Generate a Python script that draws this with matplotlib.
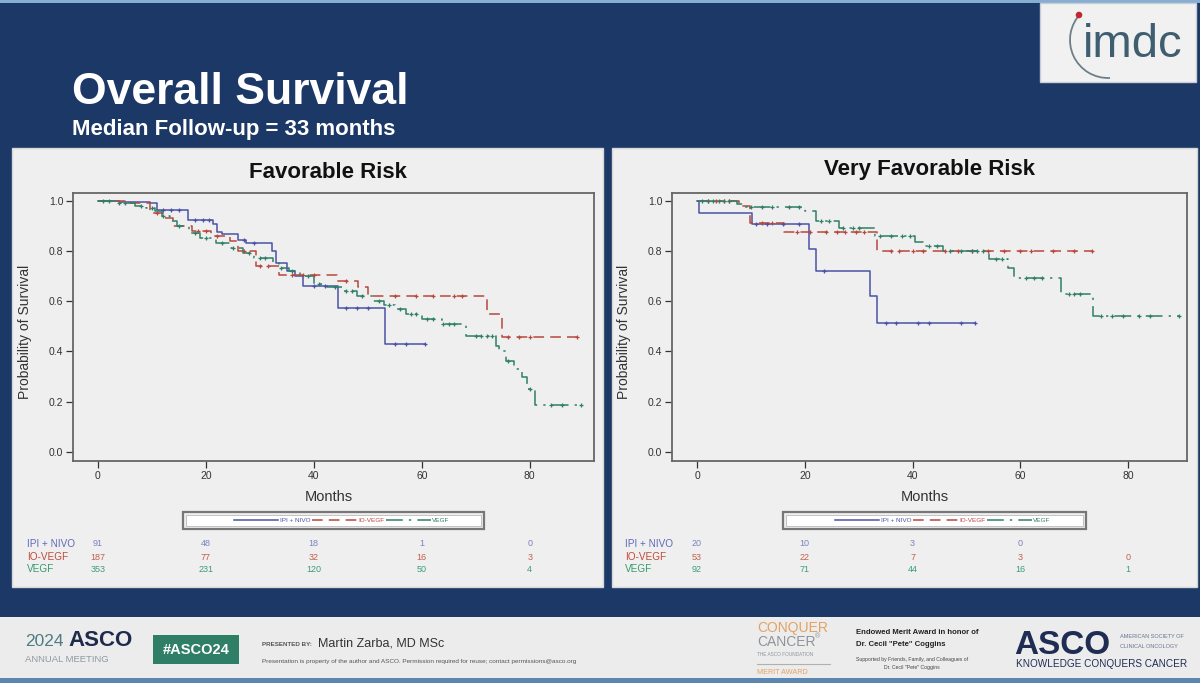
import numpy as np
import matplotlib
matplotlib.use('Agg')
import matplotlib.pyplot as plt
from matplotlib.patches import Rectangle, Arc, Circle
import matplotlib.transforms as mtransforms

# ---------------- data ----------------
groups = ["IPI + NIVO", "IO-VEGF", "VEGF"]
month_ticks = [0, 20, 40, 60, 80]

# Favorable risk (left)
fav_ipi_t = [0, 4, 9.6, 10.9, 16.7, 21.3, 22, 23, 26, 27.5, 32.2, 33, 35, 36.5, 38, 44.4, 53.1]
fav_ipi_s = [1.0, 0.995, 0.99, 0.963, 0.924, 0.908, 0.875, 0.866, 0.845, 0.83, 0.80, 0.75, 0.72, 0.70, 0.66, 0.571, 0.43]
fav_ipi_end = 60.6
fav_ipi_c = [12, 13.5, 15, 18, 19.5, 20.5, 27, 29, 40, 42, 46, 48, 50, 55, 57, 60.6]

fav_io_t = [0, 6, 9.7, 12, 14, 17.5, 21, 24.5, 26, 29.3, 33.6, 44.3, 48.2, 50, 72, 74.9]
fav_io_s = [1.0, 0.99, 0.95, 0.93, 0.90, 0.88, 0.86, 0.84, 0.80, 0.74, 0.703, 0.68, 0.655, 0.62, 0.55, 0.458]
fav_io_end = 88.8
fav_io_c = [11, 18.5, 20, 22, 27, 30, 31.5, 36, 38, 40, 46, 55, 59, 62, 66, 67.5, 76, 78, 80, 88.8]

fav_vegf_t = [0, 3.3, 6.9, 9, 10.5, 11.9, 13.3, 14.7, 16.9, 19, 21.8, 24.7, 26.8, 29, 32.5, 33.5,
              35.5, 37.5, 40, 42.5, 45.3, 48, 51, 53, 55, 57, 60, 63.8, 68.1, 73.7, 74.3, 75.6,
              77, 78.6, 79.4, 80.9]
fav_vegf_s = [1.0, 0.99, 0.98, 0.97, 0.96, 0.94, 0.92, 0.90, 0.87, 0.85, 0.83, 0.81, 0.79, 0.77, 0.75, 0.73,
              0.72, 0.70, 0.67, 0.655, 0.64, 0.62, 0.60, 0.585, 0.57, 0.55, 0.53, 0.51, 0.46, 0.42, 0.40, 0.36,
              0.33, 0.30, 0.25, 0.185]
fav_vegf_end = 89.5
fav_vegf_c = [1, 2, 4, 5, 8, 10, 12, 15, 18, 20, 23, 25, 28, 30, 31, 34, 36, 39, 41, 44, 46, 47, 49,
              52, 54, 56, 58, 59, 61, 62, 64, 65, 66, 70, 71, 72, 73, 76, 80, 84, 86, 89.5]

# Very favorable risk (right)
vf_ipi_t = [0, 0.4, 10.2, 20.8, 22, 32, 33.4]
vf_ipi_s = [1.0, 0.951, 0.905, 0.806, 0.72, 0.62, 0.511]
vf_ipi_end = 51.6
vf_ipi_c = [11, 13, 16, 19, 23.5, 35, 37, 41, 43, 49, 51.6]

vf_io_t = [0, 7.7, 9.9, 16.2, 33.4]
vf_io_s = [1.0, 0.98, 0.91, 0.875, 0.80]
vf_io_end = 73.2
vf_io_c = [2, 3.5, 5, 6, 12, 14, 18.5, 21, 24, 26, 27.5, 29.5, 31, 36, 37.5, 40, 42, 46, 48.5,
           51, 54, 57, 60, 62, 66, 70, 73.2]

vf_vegf_t = [0, 7.4, 8.8, 20.0, 22, 26.4, 33, 40.5, 41.9, 45.7, 54.2, 57.7, 58.8, 67.6, 73.5]
vf_vegf_s = [1.0, 0.985, 0.975, 0.96, 0.918, 0.89, 0.857, 0.835, 0.82, 0.798, 0.769, 0.733, 0.692, 0.63, 0.54]
vf_vegf_end = 89.4
vf_vegf_c = [1, 2, 3, 4, 5, 6, 10, 12, 14, 17, 19, 23, 24.5, 27, 29, 30, 34, 36, 38, 39.5, 43, 44.5,
             47, 49, 51, 52, 53, 55.5, 56.5, 61, 62.5, 64, 69, 70, 71, 75, 77, 79, 82, 84, 89.4]

# at-risk tables
fav_risk_ipi = [91, 48, 18, 1, 0]
fav_risk_io = [187, 77, 32, 16, 3]
fav_risk_vegf = [353, 231, 120, 50, 4]
vf_risk_ipi = [20, 10, 3, 0, None]
vf_risk_io = [53, 22, 7, 3, 0]
vf_risk_vegf = [92, 71, 44, 16, 1]

# stats tables
fav_os2 = ["86.4% (77.4 - 95.4)", "84.1% (77.0 - 91.2)", "81.1% (76.5 - 85.6)"]
fav_hr = ["0.93 (0.56 - 1.54)", "0.81 (0.55-1.21)", "Reference"]
vf_os2 = ["71.3% (46.6 - 96.0)", "87.2% (75.4 - 98.9)", "92.1% (85.9 - 98.2)"]
vf_hr = ["3.19 (1.21 - 8.41)", "1.11 (0.41-3.05)", "Reference"]

# ---------------- style ----------------
W, H = 1200, 683
NAVY = '#1b3866'
PANEL = '#efefef'
LINE_C = ['#4b52a6', '#b8473c', '#2f7f68']
TEXT_C = ['#7a83c2', '#c0614f', '#3f9b7a']
LAB_C = ['#5f69b8', '#c04a3a', '#389a6e']
LS = ['-', (0, (7, 4)), (0, (11, 4, 1.5, 4))]
FONT = 'Liberation Sans'

fig = plt.figure(figsize=(12, 6.83), dpi=100, facecolor=NAVY)
bg = fig.add_axes([0, 0, 1, 1])
bg.set_xlim(0, W); bg.set_ylim(H, 0); bg.axis('off')
bg.set_zorder(0)

def fr(x0, y0, x1, y1):
    return [x0 / W, 1 - y1 / H, (x1 - x0) / W, (y1 - y0) / H]

def T(x, y, s, **kw):
    kw.setdefault('family', FONT)
    bg.text(x, y, s, **kw)

# top strip
bg.add_patch(Rectangle((0, 0), W, 3, color='#86aed3', lw=0))
# logo
bg.add_patch(Rectangle((1040, 3), 156, 79, facecolor='#f1f1f1', edgecolor='#c9ced6', lw=1))
T(1133, 45, 'imdc', fontsize=34, color='#3f5e70', ha='center', va='center')
bg.add_patch(Arc((1108, 40), 76, 76, theta1=87, theta2=224, color='#6d7f8a', lw=1.3))
bg.add_patch(Circle((1079, 15), 3.3, color='#c0282e', lw=0))

# title
T(72, 93, 'Overall Survival', fontsize=32, color='white', weight='bold', va='center')
T(72, 130, 'Median Follow-up = 33 months', fontsize=16, color='white', weight='bold', va='center',
  family=['Liberation Sans Narrow', 'Liberation Sans'])

# panels
bg.add_patch(Rectangle((12, 148), 591, 439, facecolor=PANEL, edgecolor='#d6d6d6', lw=1))
bg.add_patch(Rectangle((612, 148), 585, 439, facecolor=PANEL, edgecolor='#d6d6d6', lw=1))

# footer
bg.add_patch(Rectangle((0, 617), W, 61, facecolor='#ececec', lw=0))
bg.add_patch(Rectangle((0, 678), W, 5, facecolor='#5a86b0', lw=0))
T(25, 642, '2024', fontsize=12.5, color='#4d7d82', va='center')
T(68, 641, 'ASCO', fontsize=16, color='#1f2b4b', weight='bold', va='center')
T(25, 660, 'ANNUAL MEETING', fontsize=6.8, color='#8c9aa3', va='center')
bg.add_patch(Rectangle((153, 635), 86, 29, facecolor='#2f7f66', lw=0))
T(196, 650, '#ASCO24', fontsize=10.5, color='white', weight='bold', ha='center', va='center')
T(262, 644, 'PRESENTED BY:', fontsize=4.5, color='#555555', weight='bold', va='center')
T(318, 643, 'Martin Zarba, MD MSc', fontsize=9, color='#333333', va='center')
T(262, 662, 'Presentation is property of the author and ASCO. Permission required for reuse; contact permissions@asco.org',
  fontsize=4.6, color='#555555', va='center')
T(757, 628, 'CONQUER', fontsize=10, color='#e3a262', va='center')
T(757, 642, 'CANCER', fontsize=10, color='#8e949b', va='center')
T(815, 637, '®', fontsize=5, color='#8e949b', va='center')
T(757, 655, 'THE ASCO FOUNDATION', fontsize=3.4, color='#8e949b', va='center')
bg.plot([757, 830], [664, 664], color='#b0b0b0', lw=0.8)
T(757, 673, 'MERIT AWARD', fontsize=5.2, color='#e3a262', va='center')
T(856, 632, 'Endowed Merit Award in honor of', fontsize=5.6, color='#222222', weight='bold', va='center')
T(856, 645, 'Dr. Cecil "Pete" Coggins', fontsize=5.6, color='#222222', weight='bold', va='center')
T(912, 660, 'Supported by Friends, Family, and Colleagues of', fontsize=3.7, color='#444444', ha='center', va='center')
T(912, 667, 'Dr. Cecil "Pete" Coggins', fontsize=3.7, color='#444444', ha='center', va='center')
T(1014, 645, 'ASCO', fontsize=24, color='#1f2d54', weight='bold', va='center')
T(1120, 637, 'AMERICAN SOCIETY OF', fontsize=4, color='#6a7390', va='center')
T(1120, 647, 'CLINICAL ONCOLOGY', fontsize=4, color='#6a7390', va='center')
T(1016, 664, 'KNOWLEDGE CONQUERS CANCER', fontsize=7.2, color='#1f2d54', va='center')

# ---------------- KM panels ----------------
def km(ax, t, s, end, c, i, label):
    t = np.asarray(t, float); s = np.asarray(s, float)
    ax.step(np.r_[t, end], np.r_[s, s[-1]], where='post', color=LINE_C[i], ls=LS[i], lw=1.1,
            label=label, zorder=3)
    c = np.asarray(c, float)
    sc = s[np.searchsorted(t, c, side='right') - 1]
    ax.plot(c, sc, ls='none', marker='+', ms=3.5, mew=0.9, color=LINE_C[i], zorder=4)

def panel(rect, xlim, title, title_xy, logrank, logrank_xy, curves, os2, hr, stat_x, risks,
          risk_label_x, legend_rect):
    ax = fig.add_axes(fr(*rect))
    ax.set_facecolor(PANEL)
    for i, (t, s, e, c) in enumerate(curves):
        km(ax, t, s, e, c, i, groups[i])
    ax.set_xlim(*xlim)
    ax.set_ylim(-0.036, 1.03)
    ax.set_xticks(month_ticks)
    ax.set_yticks([0, 0.2, 0.4, 0.6, 0.8, 1.0])
    ax.set_yticklabels(['0.0', '0.2', '0.4', '0.6', '0.8', '1.0'])
    ax.tick_params(labelsize=7.5, colors='#333333', length=5, width=0.9, pad=2)
    for lab in ax.get_xticklabels() + ax.get_yticklabels():
        lab.set_family(FONT)
    for sp in ax.spines.values():
        sp.set_color('#666666'); sp.set_linewidth(1.3)
    x0, y0, x1, y1 = rect
    T(title_xy[0], title_xy[1], title, fontsize=16, weight='bold', color='#111111', ha='center', va='center')
    T(logrank_xy[0], logrank_xy[1], logrank, fontsize=9.5, weight='bold', color='#111111', ha='right', va='center')
    T(x0 - 48, (y0 + y1) / 2 + 5, 'Probability of Survival', fontsize=10, color='#333333',
      rotation=90, ha='center', va='center')
    T((x0 + x1) / 2 - 5, 497, 'Months', fontsize=10.5, color='#333333', ha='center', va='center')
    # stats table
    lx, c1, c2 = stat_x
    T(c1, 368, '2yr OS (95%CI)', fontsize=7.2, weight='bold', color='#222222', va='center')
    T(c2, 368, 'OS HR (95% IC)', fontsize=7.2, weight='bold', color='#222222', va='center')
    for i, yy in enumerate([392, 414, 437]):
        T(lx, yy, groups[i], fontsize=7.5, color=TEXT_C[i], va='center')
        T(c1, yy, os2[i], fontsize=7.5, color=TEXT_C[i], va='center')
        T(c2, yy, hr[i], fontsize=7.5, color=TEXT_C[i], va='center')
    # legend
    lx0, ly0, lx1, ly1 = legend_rect
    bg.add_patch(Rectangle((lx0, ly0), lx1 - lx0, ly1 - ly0, facecolor='none', edgecolor='#777777', lw=1.6))
    bg.add_patch(Rectangle((lx0 + 3, ly0 + 3), lx1 - lx0 - 6, ly1 - ly0 - 6, facecolor='white',
                           edgecolor='#bbbbbb', lw=0.6))
    leg = ax.legend(loc='center', bbox_to_anchor=(((lx0 + lx1) / 2 + 8 - x0) / (x1 - x0),
                                                   (y1 - (ly0 + ly1) / 2) / (y1 - y0)),
                    ncol=3, frameon=False, fontsize=4.6, handlelength=7.0, handletextpad=0.2,
                    columnspacing=0.3, borderpad=0)
    for tx, col in zip(leg.get_texts(), LINE_C):
        tx.set_color(col); tx.set_family(FONT)
    # at-risk table
    trans = mtransforms.blended_transform_factory(ax.transData, bg.transData)
    for i, (row, yy) in enumerate(zip(risks, [544, 557, 569])):
        T(risk_label_x, yy, groups[i], fontsize=7.2, color=LAB_C[i], va='center')
        for m, v in zip(month_ticks, row):
            if v is not None:
                ax.text(m, yy, str(v), transform=trans, fontsize=6.5, color=TEXT_C[i],
                        ha='center', va='center', family=FONT, clip_on=False)
    return ax

panel((73, 193, 594, 461), (-4.6, 91.9), 'Favorable Risk', (328, 172),
      'Logrank p=0.6011', (574, 211),
      [(fav_ipi_t, fav_ipi_s, fav_ipi_end, fav_ipi_c),
       (fav_io_t, fav_io_s, fav_io_end, fav_io_c),
       (fav_vegf_t, fav_vegf_s, fav_vegf_end, fav_vegf_c)],
      fav_os2, fav_hr, (88, 165, 285),
      [fav_risk_ipi, fav_risk_io, fav_risk_vegf], 27, (183, 512, 484, 529))

panel((672, 193, 1187, 461), (-4.64, 90.9), 'Very Favorable Risk', (930, 170),
      'Logrank p=0.0412', (1171, 211),
      [(vf_ipi_t, vf_ipi_s, vf_ipi_end, vf_ipi_c),
       (vf_io_t, vf_io_s, vf_io_end, vf_io_c),
       (vf_vegf_t, vf_vegf_s, vf_vegf_end, vf_vegf_c)],
      vf_os2, vf_hr, (683, 760, 884),
      [vf_risk_ipi, vf_risk_io, vf_risk_vegf], 625, (783, 512, 1086, 529))

fig.savefig('out.png', dpi=100, facecolor=NAVY)
